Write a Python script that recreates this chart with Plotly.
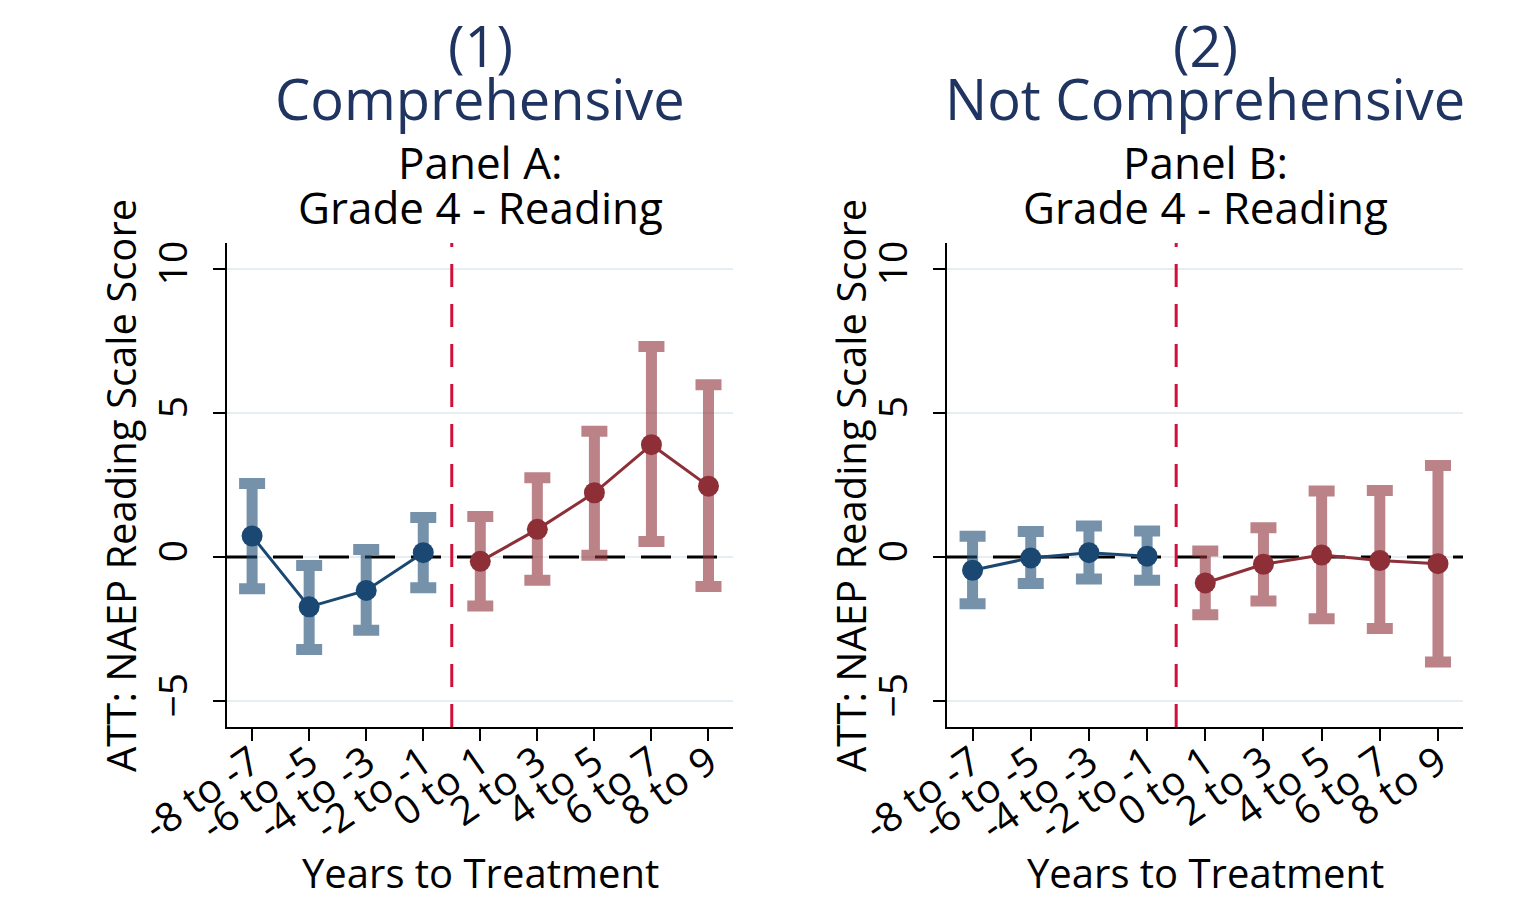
import plotly.graph_objects as go
from plotly.subplots import make_subplots

# event-time bins
periods = ["-8 to -7", "-6 to -5", "-4 to -3", "-2 to -1", "0 to 1",
           "2 to 3", "4 to 5", "6 to 7", "8 to 9"]
pre_periods = periods[:4]
post_periods = periods[4:]

# Panel A: comprehensive
comp_pre = [0.73, -1.73, -1.16, 0.15]
comp_pre_hi = [2.55, -0.29, 0.26, 1.37]
comp_pre_lo = [-1.10, -3.21, -2.54, -1.07]
comp_post = [-0.15, 0.96, 2.23, 3.90, 2.46]
comp_post_hi = [1.41, 2.75, 4.37, 7.31, 5.98]
comp_post_lo = [-1.70, -0.81, 0.06, 0.54, -1.02]

# Panel B: not comprehensive
notc_pre = [-0.46, -0.03, 0.15, 0.03]
notc_pre_hi = [0.72, 0.89, 1.08, 0.90]
notc_pre_lo = [-1.62, -0.92, -0.76, -0.81]
notc_post = [-0.90, -0.25, 0.07, -0.12, -0.23]
notc_post_hi = [0.21, 1.02, 2.29, 2.31, 3.18]
notc_post_lo = [-2.00, -1.53, -2.14, -2.48, -3.64]

y_ticks = [-5, 0, 5, 10]

top_titles = ["(1)", "(2)"]
sub_titles = ["Comprehensive", "Not Comprehensive"]
panel_names = ["Panel A:", "Panel B:"]
panel_subject = ["Grade 4 - Reading", "Grade 4 - Reading"]

FONT = "Open Sans"
NAVY = "#1f3461"
BLUE = "#1a4872"
BLUE_CI = "rgba(26,72,114,0.6)"
RED = "#8e2f38"
RED_CI = "rgba(142,47,56,0.6)"

fig = make_subplots(rows=1, cols=2, horizontal_spacing=0.173)

# light grid lines first, then the dashed zero line, all under the traces
for xa, ya in [("x", "y"), ("x2", "y2")]:
    for v in y_ticks:
        fig.add_shape(type="line", xref=xa + " domain", yref=ya,
                      x0=0, x1=1, y0=v, y1=v, layer="below",
                      line=dict(color="#e6eef1", width=2))
    fig.add_shape(type="line", xref=xa + " domain", yref=ya,
                  x0=0, x1=1, y0=0, y1=0, layer="below",
                  line=dict(color="black", width=3, dash="30px,16px"))
    # treatment onset
    fig.add_shape(type="line", xref=xa, yref=ya + " domain",
                  x0=3.5, x1=3.5, y0=0, y1=1, layer="above",
                  line=dict(color="#d0103a", width=3, dash="23px,17px"))


def add_series(fig, col, xs, y, hi, lo, color, ci_color):
    fig.add_trace(go.Scatter(
        x=xs, y=y, mode="lines+markers",
        line=dict(color=color, width=3),
        marker=dict(color=color, size=21),
        error_y=dict(type="data", symmetric=False,
                     array=[h - v for h, v in zip(hi, y)],
                     arrayminus=[v - l for l, v in zip(lo, y)],
                     color=ci_color, thickness=11, width=13),
        showlegend=False), row=1, col=col)


add_series(fig, 1, pre_periods, comp_pre, comp_pre_hi, comp_pre_lo, BLUE, BLUE_CI)
add_series(fig, 1, post_periods, comp_post, comp_post_hi, comp_post_lo, RED, RED_CI)
add_series(fig, 2, pre_periods, notc_pre, notc_pre_hi, notc_pre_lo, BLUE, BLUE_CI)
add_series(fig, 2, post_periods, notc_post, notc_post_hi, notc_post_lo, RED, RED_CI)

fig.update_xaxes(
    categoryorder="array", categoryarray=periods,
    range=[-0.44, 8.43], tickangle=-35, ticklabelstandoff=-18,
    tickfont=dict(family=FONT, size=40, color="black"),
    ticks="outside", ticklen=12, tickwidth=2, tickcolor="black",
    showline=True, linecolor="black", linewidth=2,
    showgrid=False, zeroline=False)
fig.update_yaxes(
    range=[-5.9, 10.9], tickvals=y_ticks,
    tickangle=-90, ticklabelstandoff=10,
    tickfont=dict(family=FONT, size=39, color="black"),
    ticks="outside", ticklen=12, tickwidth=2, tickcolor="black",
    showline=True, linecolor="black", linewidth=2,
    showgrid=False, zeroline=False)

# page body adds 8px, so margins are shifted to compensate
fig.update_layout(
    width=1524, height=902,
    margin=dict(l=219, r=69, t=235, b=183),
    paper_bgcolor="white", plot_bgcolor="white",
    font=dict(family=FONT, color="black"))

fig.layout.xaxis.domain = [0, 0.4094]
fig.layout.xaxis2.domain = [0.5825, 1]

centers = [0.2047, 0.7913]
ytitle_x = [-0.0866, 0.504]


def label(text, x, y, size, color, angle=0):
    fig.add_annotation(text=text, xref="paper", yref="paper", x=x, y=y,
                       xanchor="center", yanchor="middle", textangle=angle,
                       showarrow=False,
                       font=dict(family=FONT, size=size, color=color))


for i in range(2):
    label(top_titles[i], centers[i], 1.41, 56, NAVY)
    label(sub_titles[i], centers[i], 1.30, 56, NAVY)
    label(panel_names[i], centers[i], 1.168, 44, "black")
    label(panel_subject[i], centers[i], 1.075, 44, "black")
    label("Years to Treatment", centers[i], -0.30, 40, "black")
    label("ATT: NAEP Reading Scale Score", ytitle_x[i], 0.5, 40, "black", -90)

fig.write_html("out.html")
